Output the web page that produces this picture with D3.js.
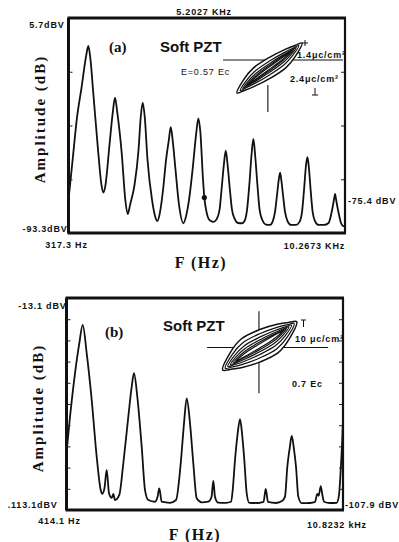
<!DOCTYPE html>
<html>
<head>
<meta charset="utf-8">
<script src="https://cdn.jsdelivr.net/npm/d3@7"></script>
<style>
  body { margin: 0; background: #fff; }
  svg { display: block; }
  .num { font-family: "Liberation Sans", Arial, sans-serif; font-weight: bold; font-size: 9px; letter-spacing: 0.8px; fill: #111; }
  .ttl { font-family: "Liberation Serif", "Times New Roman", serif; font-weight: bold; fill: #111; }
  .sft { font-family: "Liberation Sans", Arial, sans-serif; font-weight: bold; font-size: 15px; fill: #111; }
  .ins { font-family: "Liberation Sans", Arial, sans-serif; font-size: 9px; letter-spacing: 0.8px; fill: #111; }
</style>
</head>
<body>
<svg id="chart" width="399" height="542"></svg>
<script>
// ---- spectrum (a): frequency in kHz, amplitude in dBV
const specAFreq = [0.317,0.490,0.612,0.792,0.958,1.030,1.102,1.210,1.390,1.498,1.570,1.642,
  1.786,1.912,1.991,2.071,2.233,2.362,2.448,2.539,
  2.693,2.837,2.917,2.989,3.061,3.161,3.323,3.431,3.514,3.597,
  3.719,3.827,3.928,3.997,4.065,4.169,4.295,4.450,4.565,
  4.655,4.781,4.918,4.990,5.062,5.159,5.206,5.284,5.374,5.482,
  5.529,5.651,5.752,5.824,5.907,5.976,6.043,6.126,6.202,6.302,6.418,6.562,
  6.652,6.742,6.824,6.903,6.970,7.033,7.116,7.195,7.292,7.425,7.569,
  7.659,7.749,7.821,7.882,7.931,7.976,8.037,8.109,8.199,8.325,8.505,
  8.631,8.721,8.793,8.865,8.914,8.959,9.031,9.103,9.189,9.315,9.513,
  9.675,9.765,9.837,9.880,9.911,9.938,9.981,10.053,10.125,10.210,10.267];
const specADb = [-78.1,-56.5,-41.3,-25.9,-11.3,-7.2,-12.7,-29.0,-56.5,-70.7,-74.7,-71.7,
  -53.6,-37.6,-31.0,-37.6,-56.6,-78.1,-84.6,-80.0,
  -71.2,-55.1,-39.9,-33.3,-39.9,-59.7,-78.1,-85.5,-87.8,-84.6,
  -73.5,-59.7,-50.5,-44.6,-50.5,-64.3,-80.4,-88.8,-84.6,
  -78.1,-64.3,-46.8,-40.5,-46.8,-68.9,-77.0,-83.6,-87.1,-88.0,
  -88.2,-86.9,-82.7,-73.5,-62.0,-55.4,-62.0,-73.5,-82.7,-86.9,-88.7,-88.8,
  -87.8,-82.7,-71.2,-57.4,-50.0,-57.4,-71.2,-82.7,-87.3,-89.4,-89.6,
  -88.2,-83.6,-75.8,-68.9,-65.5,-68.9,-75.8,-83.6,-87.8,-89.6,-89.6,
  -88.2,-83.6,-73.5,-62.0,-58.4,-62.0,-73.5,-83.6,-87.8,-89.6,-89.6,
  -88.7,-85.0,-80.4,-77.2,-75.3,-77.2,-80.4,-85.0,-88.7,-90.1,-90.1];
const markerA = [5.206, -77.0];

// ---- spectrum (b)
const specBFreq = [0.414,0.546,0.734,0.896,1.024,1.175,1.363,1.551,1.702,1.762,1.845,1.928,2.014,2.116,2.176,2.240,2.402,
  2.553,2.741,2.869,2.955,3.080,3.245,3.370,3.494,3.746,3.840,3.908,3.998,4.311,4.537,
  4.714,4.838,4.940,5.064,5.188,5.316,5.504,5.753,5.873,5.941,6.005,6.118,6.419,6.607,
  6.671,6.758,6.852,6.946,7.021,7.108,7.198,7.296,7.624,7.831,7.914,8.000,8.302,8.527,
  8.640,8.727,8.817,8.893,8.972,9.054,9.141,9.269,9.581,9.770,9.856,9.909,9.984,10.052,10.109,10.334,10.587,10.673,10.730,10.794,10.823];
const specBDb = [-86.4,-69.1,-48.6,-34.5,-25.8,-39.2,-61.2,-88.0,-103.7,-105.5,-102.7,-94.2,-105.2,-107.4,-105.5,-108.4,-106.0,
  -91.1,-69.1,-54.9,-48.6,-59.7,-83.2,-103.7,-108.4,-109.2,-107.0,-102.9,-109.2,-109.7,-108.4,
  -91.1,-72.2,-60.4,-72.2,-91.1,-107.6,-109.5,-109.2,-107.0,-99.4,-107.0,-109.6,-109.7,-109.2,
  -103.7,-89.5,-77.7,-70.3,-76.8,-89.5,-105.2,-109.7,-109.8,-109.3,-103.2,-109.3,-109.8,-108.9,
  -106.8,-92.7,-83.9,-78.2,-83.9,-92.7,-106.8,-109.9,-109.8,-109.3,-105.5,-106.4,-101.8,-106.4,-109.2,-109.8,-109.7,-106.0,-95.8,-80.1,-70.6];

// axis ranges and tick labels
const freqDomA = [0.3173, 10.2673];
const dbDomA = [-93.3, 5.7];
const ticksA = [-68.55, -43.8, -19.05];
const freqDomB = [0.4141, 10.8232];
const dbDomB = [-113.1, -13.1];
const ticksB = [-103.1, -93.1, -83.1, -73.1, -63.1, -53.1, -43.1, -33.1, -23.1];

// hysteresis inset: upper-branch offset from the diagonal, read along E
const loopE = [-1, -0.8, -0.5, 0, 0.5, 0.8, 1];
const loopOffset = [0, 0.38, 0.58, 0.5, 0.3, 0.13, 0];
const loopSizeA = [1, 0.9, 0.82, 0.75, 0.68];
const loopOpenA = [1, 0.72, 0.5, 0.32, 0.18];
const loopSizeB = [1, 0.93, 0.86, 0.79, 0.72, 0.65];
const loopOpenB = [1, 0.8, 0.62, 0.46, 0.32, 0.2];

const svg = d3.select('#chart');

const panels = [
  { l: 68.5, r: 345, t: 18, b: 233, fDom: freqDomA, dbDom: dbDomA, freq: specAFreq, db: specADb,
    ticks: ticksA, tag: '(a)', tagXY: [109, 52], softXY: [160, 52], titleY: 268, titleX: 201,
    ampY: 119, ampX: 45,
    labels: [
      { t: '5.7dBV', x: -4, y: 10, from: 'lt', anchor: 'end' },
      { t: '-93.3dBV', x: -1, y: -1, from: 'lb', anchor: 'end' },
      { t: '317.3 Hz', x: -2, y: 15, from: 'lb', anchor: 'middle' },
      { t: '10.2673 KHz', x: 0, y: 16, from: 'rb', anchor: 'end' },
      { t: '5.2027 KHz', x: -28, y: -3, from: 'ct', anchor: 'start' },
      { t: '-75.4 dBV', x: 3, y: -29, from: 'rb', anchor: 'start' }
    ] },
  { l: 66.5, r: 343, t: 298, b: 510, fDom: freqDomB, dbDom: dbDomB, freq: specBFreq, db: specBDb,
    ticks: ticksB, tag: '(b)', tagXY: [105, 337], softXY: [163, 331], titleY: 540, titleX: 195,
    ampY: 408, ampX: 43,
    labels: [
      { t: '-13.1 dBV', x: 0, y: 11, from: 'lt', anchor: 'end' },
      { t: '.113.1dBV', x: -9, y: -2, from: 'lb', anchor: 'end' },
      { t: '414.1 Hz', x: -7, y: 14, from: 'lb', anchor: 'middle' },
      { t: '10.8232 kHz', x: -36, y: 18, from: 'rb', anchor: 'start' },
      { t: '-107.9 dBV', x: 2, y: -2, from: 'rb', anchor: 'start' }
    ] }
];

panels.forEach(p => {
  const x = d3.scaleLinear().domain(p.fDom).range([p.l, p.r]);
  const y = d3.scaleLinear().domain(p.dbDom).range([p.b, p.t]);
  const g = svg.append('g');

  // trace
  g.append('path')
    .datum(d3.zip(p.freq, p.db))
    .attr('d', d3.line().x(d => x(d[0])).y(d => y(d[1])).curve(d3.curveMonotoneX))
    .attr('fill', 'none')
    .attr('stroke', '#111')
    .attr('stroke-width', 1.8)
    .attr('stroke-linejoin', 'round');

  // inward ticks on both sides
  g.append('g').attr('transform', `translate(${p.l},0)`)
    .call(d3.axisLeft(y).tickValues(p.ticks).tickSize(-4).tickFormat(''))
    .call(a => a.select('.domain').remove())
    .selectAll('line').attr('stroke', '#222').attr('stroke-width', 1);
  g.append('g').attr('transform', `translate(${p.r},0)`)
    .call(d3.axisRight(y).tickValues(p.ticks).tickSize(-4).tickFormat(''))
    .call(a => a.select('.domain').remove())
    .selectAll('line').attr('stroke', '#222').attr('stroke-width', 1);

  // frame: heavy top/left/bottom, lighter right
  const edges = [
    [p.l - 1, p.t, p.r + 1, p.t, 3], [p.l, p.t, p.l, p.b, 3],
    [p.l - 1, p.b, p.r + 1, p.b, 3], [p.r, p.t, p.r, p.b, 2.2]
  ];
  g.selectAll('line.edge').data(edges).join('line')
    .attr('class', 'edge')
    .attr('x1', d => d[0]).attr('y1', d => d[1])
    .attr('x2', d => d[2]).attr('y2', d => d[3])
    .attr('stroke', '#111').attr('stroke-width', d => d[4]);

  // numeric labels at the corners
  const anchorPt = { lt: [p.l, p.t], lb: [p.l, p.b], rb: [p.r, p.b], ct: [x(5.2027), p.t] };
  p.labels.forEach(lb => {
    const a = anchorPt[lb.from];
    g.append('text').attr('class', 'num')
      .attr('x', a[0] + lb.x).attr('y', a[1] + lb.y)
      .attr('text-anchor', lb.anchor).text(lb.t);
  });

  g.append('text').attr('class', 'ttl').attr('font-size', 15)
    .attr('x', p.tagXY[0]).attr('y', p.tagXY[1]).text(p.tag);
  g.append('text').attr('class', 'sft')
    .attr('x', p.softXY[0]).attr('y', p.softXY[1]).text('Soft PZT');

  g.append('text').attr('class', 'ttl').attr('font-size', 16)
    .attr('letter-spacing', 1.5).attr('text-anchor', 'middle')
    .attr('x', p.titleX).attr('y', p.titleY).text('F (Hz)');
  g.append('text').attr('class', 'ttl').attr('font-size', 15)
    .attr('letter-spacing', 2).attr('text-anchor', 'middle')
    .attr('transform', `translate(${p.ampX},${p.ampY}) rotate(-90)`)
    .text('Amplitude (dB)');

  p.x = x; p.y = y; p.g = g;
});

// marker dot on spectrum (a)
panels[0].g.append('circle')
  .attr('cx', panels[0].x(markerA[0])).attr('cy', panels[0].y(markerA[1]))
  .attr('r', 2.6).attr('fill', '#111');

// ---- hysteresis insets
const insets = [
  { g: panels[0].g, E: [237, 302], P: [93, 43], k: 0.85, sizes: loopSizeA, opens: loopOpenA,
    h: [[-1.43, 0.32], [2.26, 0.32]], v: [[-0.05, -0.68], [-0.05, -1.76]] },
  { g: panels[1].g, E: [222.7, 296.7], P: [370, 321.7], k: 1.35, sizes: loopSizeB, opens: loopOpenB,
    h: [[-1.42, -0.07], [1.85, -0.07]], v: [[-0.02, 1.43], [-0.02, -1.96]] }
];

insets.forEach(ins => {
  const ex = d3.scaleLinear().domain([-1, 1]).range(ins.E);
  const py = d3.scaleLinear().domain([-1, 1]).range(ins.P);
  const ln = d3.line().x(d => ex(d[0])).y(d => py(d[1]));
  [ins.h, ins.v].forEach(seg => {
    ins.g.append('path').attr('d', ln(seg)).attr('stroke', '#111').attr('stroke-width', 1.1);
  });

  const n = loopE.length;
  const loops = ins.sizes.map((s, j) => {
    const o = ins.k * ins.opens[j];
    const upper = loopE.map((e, i) => [s * e, s * (e + o * loopOffset[i])]);
    const lower = loopE.map((e, i) => [s * e, s * (e - o * loopOffset[n - 1 - i])]).reverse();
    return upper.concat(lower.slice(1, -1));
  });
  const closed = d3.line().x(d => ex(d[0])).y(d => py(d[1])).curve(d3.curveCatmullRomClosed.alpha(0.5));
  ins.g.selectAll(null).data(loops).join('path')
    .attr('d', closed)
    .attr('fill', (d, i) => i === 0 ? '#fff' : 'none')
    .attr('stroke', '#111')
    .attr('stroke-width', (d, i) => i === 0 ? 1.5 : 1.2);
});

// inset annotations
const gA = panels[0].g, gB = panels[1].g;
gA.append('text').attr('class', 'ins').attr('x', 181).attr('y', 75).text('E=0.57 Ec');
gA.append('text').attr('class', 'ins').attr('font-weight', 'bold').attr('x', 297).attr('y', 58).text('1.4μc/cm²');
gA.append('text').attr('class', 'ins').attr('font-weight', 'bold').attr('x', 290).attr('y', 82).text('2.4μc/cm²');
// little scale-bar end marks
const marks = [
  [gA, [[315, 88], [315, 95]]], [gA, [[312, 95], [318, 95]]],
  [gA, [[305, 40], [305, 46]]], [gA, [[302, 43], [308, 43]]],
  [gB, [[301, 320], [306, 320]]], [gB, [[303.5, 320], [303.5, 327]]]
];
marks.forEach(m => m[0].append('path').attr('d', d3.line()(m[1]))
  .attr('stroke', '#111').attr('stroke-width', 1));
gB.append('text').attr('class', 'ins').attr('font-weight', 'bold').attr('x', 295).attr('y', 342).text('10 μc/cm²');
gB.append('text').attr('class', 'ins').attr('font-weight', 'bold').attr('x', 292).attr('y', 387).text('0.7 Ec');
</script>
</body>
</html>
